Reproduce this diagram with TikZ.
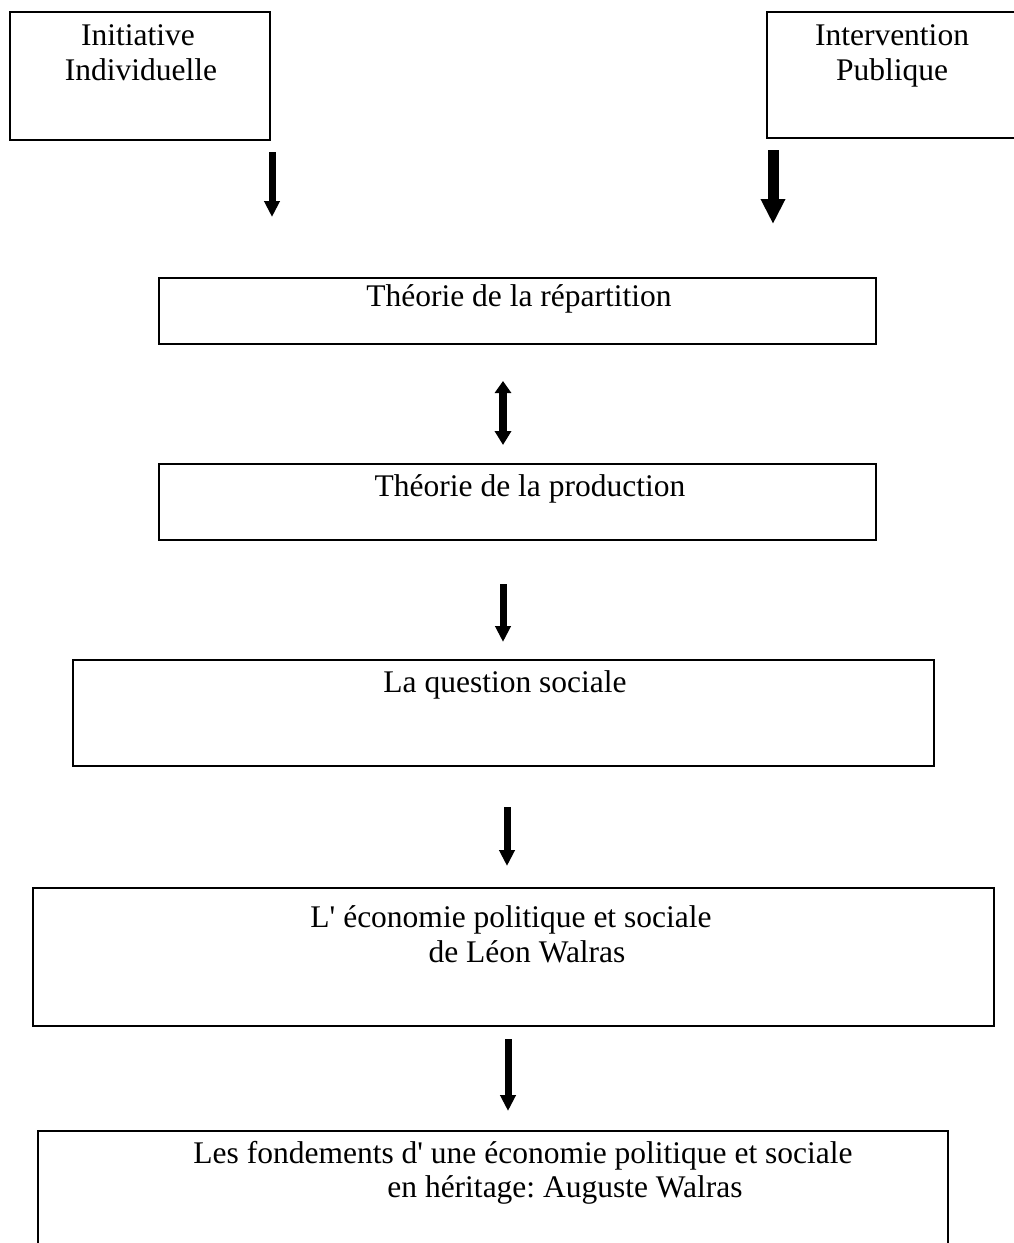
\documentclass[tikz,border=0pt]{standalone}
\usepackage{fontspec}
\setmainfont{Liberation Serif}[Ligatures=TeXOff]
\usetikzlibrary{arrows.meta}
\frenchspacing
\tikzset{
  box/.style={draw, line width=2pt, rectangle, inner sep=0pt, outer sep=0pt},
  txt/.style={anchor=base, inner sep=0pt, font=\fontsize{31.5}{35}\selectfont\frenchspacing},
  arr/.style={line width=7pt, -{Triangle[width=15pt,length=16pt]}},
  bigarr/.style={line width=11pt, -{Triangle[width=23pt,length=25pt]}},
  dblarr/.style={line width=8pt, {Triangle[width=16pt,length=12pt]}-{Triangle[width=16pt,length=14pt]}}
}
\begin{document}
\begin{tikzpicture}[x=1pt,y=-1pt]
\useasboundingbox (0,0) rectangle (1013,1243);
\fill[white] (0,0) rectangle (1013,1243);
% boxes
\node[box, minimum width=260pt, minimum height=128pt] (b1) at (140,76) {};
\node[box, minimum width=250pt, minimum height=126pt] (b2) at (892,75) {};
\node[box, minimum width=717pt, minimum height=66pt] (b3) at (517.5,311) {};
\node[box, minimum width=717pt, minimum height=76pt] (b4) at (517.5,502) {};
\node[box, minimum width=861pt, minimum height=106pt] (b5) at (503.5,713) {};
\node[box, minimum width=961pt, minimum height=138pt] (b6) at (513.5,957) {};
\node[box, minimum width=910pt, minimum height=140pt] (b7) at (493,1201) {};
% texts
\node[txt] (t1a) at (138,45) {Initiative};
\node[txt] (t1b) at (141,80) {Individuelle};
\node[txt] (t2a) at (892,45) {Intervention};
\node[txt] (t2b) at (892,80) {Publique};
\node[txt] (t3) at (519,306) {Théorie de la répartition};
\node[txt] (t4) at (530,496) {Théorie de la production};
\node[txt] (t5) at (505,692) {La question sociale};
\node[txt] (t6a) at (511,927) {L' économie politique et sociale};
\node[txt] (t6b) at (527,962) {de Léon Walras};
\node[txt] (t7a) at (523,1163) {Les fondements d' une économie politique et sociale};
\node[txt] (t7b) at (565,1197) {en héritage: Auguste Walras};
% arrow endpoints
\coordinate (a1s) at (272,152);
\coordinate (a1e) at (272,217);
\coordinate (a2s) at (773,150);
\coordinate (a2e) at (773,224);
\coordinate (a3s) at (503,381);
\coordinate (a3e) at (503,445);
\coordinate (a4s) at (503,584);
\coordinate (a4e) at (503,642);
\coordinate (a5s) at (507,807);
\coordinate (a5e) at (507,866);
\coordinate (a6s) at (508,1039);
\coordinate (a6e) at (508,1111);
% arrows
\draw[arr] (a1s) -- (a1e);
\draw[bigarr] (a2s) -- (a2e);
\draw[dblarr] (a3s) -- (a3e);
\draw[arr] (a4s) -- (a4e);
\draw[arr] (a5s) -- (a5e);
\draw[arr] (a6s) -- (a6e);
\end{tikzpicture}
\end{document}
